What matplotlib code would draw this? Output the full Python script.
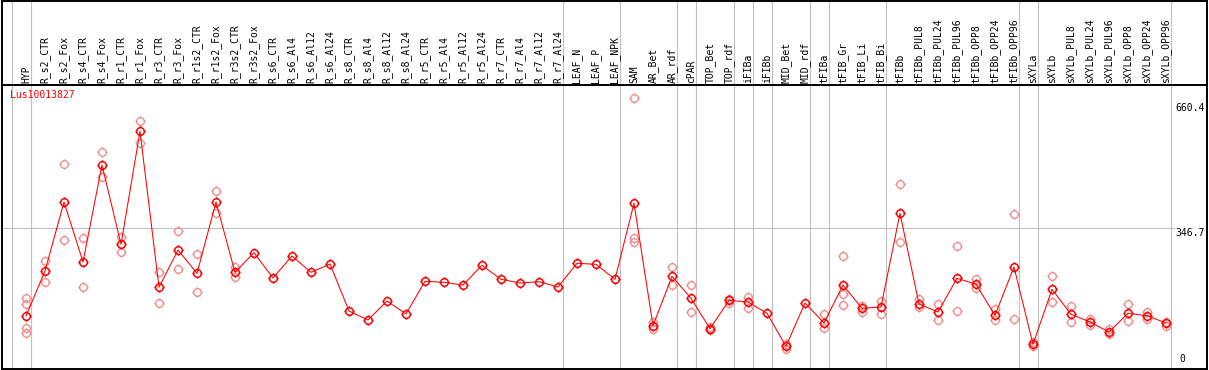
import numpy as np
from matplotlib import pyplot as plt
from matplotlib.path import Path


gene = 'Lus10013827'

samples = ['HYP', 'R_s2_CTR', 'R_s2_Fox', 'R_s4_CTR', 'R_s4_Fox', 'R_r1_CTR',
           'R_r1_Fox', 'R_r3_CTR', 'R_r3_Fox', 'R_r1s2_CTR', 'R_r1s2_Fox',
           'R_r3s2_CTR', 'R_r3s2_Fox', 'R_s6_CTR', 'R_s6_Al4', 'R_s6_Al12',
           'R_s6_Al24', 'R_s8_CTR', 'R_s8_Al4', 'R_s8_Al12', 'R_s8_Al24',
           'R_r5_CTR', 'R_r5_Al4', 'R_r5_Al12', 'R_r5_Al24', 'R_r7_CTR',
           'R_r7_Al4', 'R_r7_Al12', 'R_r7_Al24', 'LEAF_N', 'LEAF_P', 'LEAF_NPK',
           'SAM', 'AR_Bet', 'AR_rdf', 'cPAR', 'TOP_Bet', 'TOP_rdf', 'iFIBa',
           'iFIBb', 'MID_Bet', 'MID_rdf', 'tFIBa', 'tFIB_Gr', 'tFIB_Li',
           'tFIB_Bi', 'tFIBb', 'tFIBb_PUL8', 'tFIBb_PUL24', 'tFIBb_PUL96',
           'tFIBb_OPP8', 'tFIBb_OPP24', 'tFIBb_OPP96', 'sXYLa', 'sXYLb',
           'sXYLb_PUL8', 'sXYLb_PUL24', 'sXYLb_PUL96', 'sXYLb_OPP8',
           'sXYLb_OPP24', 'sXYLb_OPP96']

means = [127.2, 239.9, 412.6, 262.4, 505.3, 306.7, 589.6, 199.1, 292.4, 234.1,
         412.6, 236.6, 285.7, 222.3, 277.4, 236.6, 257.4, 139.7, 117.2, 164.8,
         132.2, 214.1, 211.6, 204.8, 254.1, 219.1, 209.8, 213.1, 199.8, 259.1,
         256.6, 219.1, 409.4, 102.9, 226.6, 171.5, 95.4, 166.5, 162.2, 134.0,
         51.3, 159.7, 109.7, 204.8, 146.5, 149.7, 384.3, 157.2, 137.2, 221.6,
         206.6, 128.9, 249.9, 56.3, 194.0, 131.5, 112.2, 87.1, 134.0, 127.9,
         109.7]

# replicate values (empty where hidden behind the mean)
reps = [[171.5, 156.5, 96.4, 83.9], [264.9, 211.6], [507.8, 317.5],
        [321.7, 199.1], [537.1, 474.5], [325.7, 286.7], [615.4, 561.1],
        [236.6, 159.7], [339.3, 244.1], [281.7, 186.5], [440.2, 384.3],
        [250.6, 225.6], [], [], [], [], [], [], [], [], [], [], [], [], [],
        [], [], [], [], [], [], [], [673.0, 323.2, 313.2], [112.9, 93.9],
        [249.9, 205.6], [204.1, 136.5], [100.4, 92.1], [170.5, 160.5],
        [175.5, 148.0], [], [57.1, 44.6], [], [132.2, 96.4],
        [277.4, 182.3, 154.0], [153.0, 138.0], [164.8, 131.5], [457.0, 311.7],
        [169.0, 149.0], [157.2, 116.4], [301.7, 139.7], [219.8, 196.5],
        [144.7, 116.4], [381.8, 118.9], [61.3, 52.8], [227.3, 162.2],
        [152.2, 112.2], [119.7, 104.7], [93.9, 82.9], [157.2, 113.9],
        [136.5, 119.7], [112.9, 102.9]]

# groups end after these sample indices
group_ends = [-1, 0, 28, 31, 34, 35, 37, 38, 39, 41, 42, 45, 52, 53, 60]
ytick_vals = [660.4, 346.7]

W, H = 1209, 370
fig = plt.figure(figsize=(W / 100, H / 100), dpi=100)


def px_axes(x0, y0, x1, y1):
    return fig.add_axes([x0 / W, 1 - y1 / H, (x1 - x0) / W, (y1 - y0) / H])


ax = px_axes(1.5, 84.7, 1207.3, 369.3)
axl = px_axes(1.5, 0.7, 1207.3, 84.7)

xlim = ((1.5 - 26) / 19, (1207.3 - 26) / 19)
for a in (ax, axl):
    a.set_xlim(xlim)
    a.set_xticks([])
    a.set_yticks([])
    for s in a.spines.values():
        s.set_linewidth(1.4)
        s.set_color('black')
    for g in group_ends:
        a.axvline(g + 0.25, color='#c0c0c0', lw=0.8, zorder=0)
axl.set_ylim(0, 1)
ax.set_ylim(-6.26, 706.3)

# circle with small ticks, like the original bitmap marker
ticks = []
for dx, dy in [(0, 1), (0, -1), (1, 0), (-1, 0)]:
    ticks.append(Path([(dx, dy), (dx * 1.35, dy * 1.35)], [Path.MOVETO, Path.LINETO]))
mk = Path.make_compound_path(Path.unit_circle(), *ticks)

ax.axhline(ytick_vals[1], color='#c0c0c0', lw=0.8, zorder=0)

x = np.arange(len(samples))
for i, r in enumerate(reps):
    if r:
        ax.plot([i] * len(r), r, ls='none', marker=mk, ms=7.4, mfc='none',
                mec='#ee9090', mew=1.0, zorder=2)
ax.plot(x, means, color='red', lw=0.75, marker=mk, ms=7.4, mfc='none',
        mec='red', mew=1.1, zorder=3)

mono = dict(family='DejaVu Sans Mono', fontsize=7)
for i, s in enumerate(samples):
    axl.text(i, 0.017, s, rotation=90, ha='center', va='bottom', **mono)

ax.text((10 - 26) / 19, 0.965, gene, color='red',
        transform=ax.get_xaxis_transform(), ha='left', va='center', **mono)

xr = (1205 - 26) / 19
for v in ytick_vals:
    ax.text(xr, v, f'{v}', ha='right', va='top',
            bbox=dict(facecolor='white', edgecolor='none', pad=0.6), **mono)
ax.text((1179 - 26) / 19, 0.018, '0', ha='left', va='bottom',
        transform=ax.get_xaxis_transform(), **mono)

plt.savefig('out.png', dpi=100)
